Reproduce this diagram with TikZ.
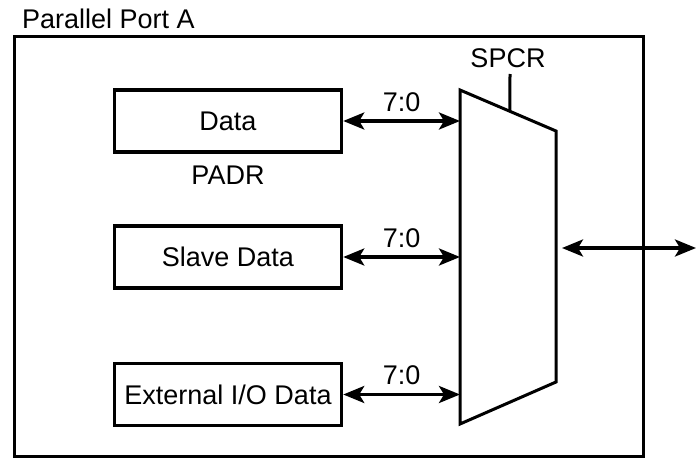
\documentclass[tikz,border=0pt]{standalone}
\usepackage{fontspec}
\setmainfont{Liberation Sans}
\usetikzlibrary{arrows.meta,positioning,calc}
\tikzset{bustip/.tip={Stealth[length=21pt,width=17pt,inset=5pt]}}
\begin{document}
\begin{tikzpicture}[x=1pt,y=-1pt,
  box/.style={draw, line width=3.5pt, minimum width=227pt, minimum height=62pt, inner sep=0pt, font=\fontsize{27}{32}\selectfont},
  lbl/.style={font=\fontsize{27}{32}\selectfont, inner sep=0pt},
  bus/.style={line width=3.3pt, bustip-bustip},
  edge/.style={line width=3pt, line join=miter}]
\useasboundingbox (0,0) rectangle (696,460);
% outer frame
\draw[line width=3.2pt] (14.5,36.5) rectangle (643.5,456.5);
\node[lbl, anchor=base west] (title) at (22,29) {Parallel Port A};
% register boxes
\node[box] (data) at (228,121) {Data};
\node[box] (slave) at (228,257) {Slave Data};
\node[box] (ext) at (228,394.5) {External I/O Data};
\node[lbl, below=12pt of data.south] (padr) {PADR};
% multiplexer
\coordinate (m1) at (460,90);
\coordinate (m2) at (556,131);
\coordinate (m3) at (556,382);
\coordinate (m4) at (460,424);
\draw[edge] (m1) -- (m2) -- (m3) -- (m4) -- cycle;
% select line
\coordinate (msel) at ($(m1)!0.52!(m2)$);
\node[lbl] (spcr) at (508,58) {SPCR};
\coordinate (seltop) at (510,74);
\draw[edge] (seltop) -- (msel);
% buses
\draw[bus] (data.east) -- (data.east -| m1) node[lbl, midway, above=8pt] (l1) {7:0};
\draw[bus] (slave.east) -- (slave.east -| m1) node[lbl, midway, above=8pt] (l2) {7:0};
\draw[bus] (ext.east) -- (ext.east -| m1) node[lbl, midway, above=8pt] (l3) {7:0};
\coordinate (muxout) at (562,248);
\coordinate (portout) at (696,248);
\draw[bus] (muxout) -- (portout);
\end{tikzpicture}
\end{document}
